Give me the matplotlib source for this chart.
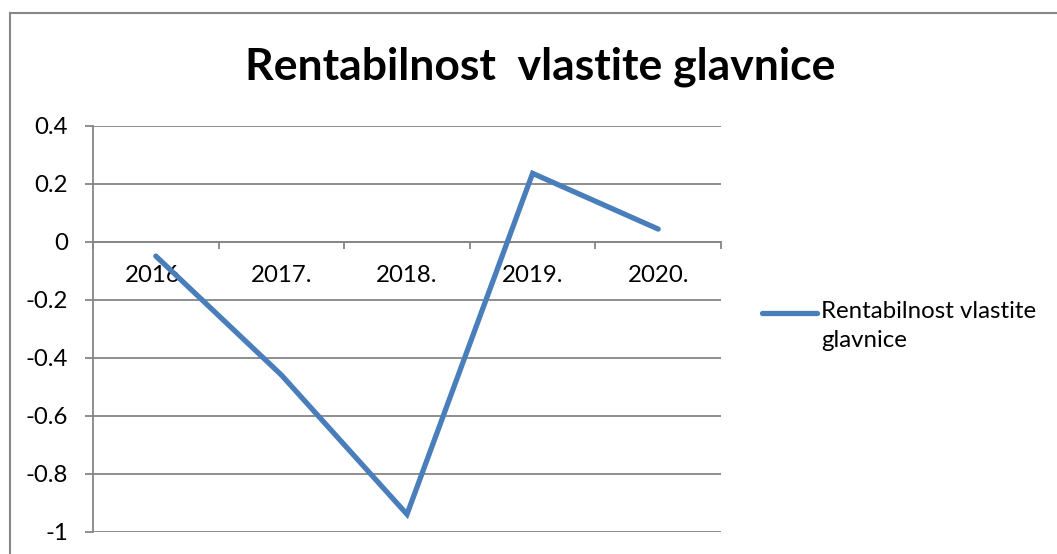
import matplotlib
matplotlib.use("Agg")
import matplotlib.pyplot as plt
from matplotlib.lines import Line2D
import numpy as np

categories = ["2016.", "2017.", "2018.", "2019.", "2020."]
values = [-0.05, -0.46, -0.94, 0.235, 0.043]
series_name = "Rentabilnost vlastite glavnice"
title = "Rentabilnost  vlastite glavnice"
yticks = [-1, -0.8, -0.6, -0.4, -0.2, 0, 0.2, 0.4]
ytick_labels = ["-1", "-0.8", "-0.6", "-0.4", "-0.2", "0", "0.2", "0.4"]

W, H = 1057, 554
fig = plt.figure(figsize=(W / 100, H / 100), dpi=100)
plt.rcParams['font.family'] = ['Lato', 'DejaVu Sans']

grid_col = "#868686"
line_col = "#4A7EBB"

ax = fig.add_axes([93 / W, 1 - 531.7 / H, (721 - 93) / W, (531.7 - 125.5) / H])
x = np.arange(len(categories))
ax.plot(x, values, color=line_col, lw=3.8, solid_capstyle='round', solid_joinstyle='miter', zorder=3)

ax.set_xlim(-0.5, len(categories) - 0.5)
ax.set_ylim(-1, 0.4)
ax.set_yticks(yticks)
ax.set_yticklabels(ytick_labels)
ax.yaxis.grid(True, color=grid_col, lw=1.3)
ax.set_axisbelow(True)

for s in ["top", "right"]:
    ax.spines[s].set_visible(False)
ax.spines["left"].set_color(grid_col)
ax.spines["left"].set_linewidth(1.3)
ax.spines["bottom"].set_position(("data", 0))
ax.spines["bottom"].set_color(grid_col)
ax.spines["bottom"].set_linewidth(1.3)

ax.set_xticks(x)
ax.set_xticklabels(categories)
ax.set_xticks(np.arange(-0.5, len(categories)), minor=True)
ax.tick_params(axis="x", which="major", length=0, pad=17, labelsize=17.3)
ax.tick_params(axis="x", which="minor", length=5, width=1.3, color=grid_col, direction="out")
ax.tick_params(axis="y", length=6, width=1.3, color=grid_col, pad=12, labelsize=17.3)

fig.text(540 / W, 1 - 67 / H, title, ha="center", va="center", fontsize=32, fontweight="bold")

# legend
ly = 1 - 312.7 / H
fig.add_artist(Line2D([762 / W, 817 / W], [ly, ly], color=line_col, lw=3.8, solid_capstyle='round'))
fig.text(821 / W, 1 - 301 / H, "Rentabilnost vlastite\nglavnice", ha="left", va="top", fontsize=17.3,
         linespacing=1.45)

# outer border
fig.add_artist(Line2D([9.5 / W, 9.5 / W], [0, 1 - 13 / H], color="#888888", lw=1.5))
fig.add_artist(Line2D([9.5 / W, 1], [1 - 13 / H, 1 - 13 / H], color="#888888", lw=1.5))

fig.savefig("out.png", dpi=100)
